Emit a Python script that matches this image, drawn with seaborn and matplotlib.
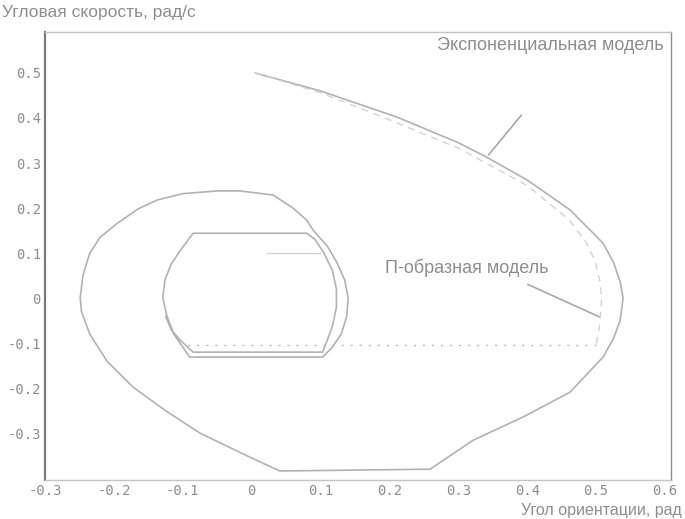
import numpy as np
import pandas as pd
import matplotlib
matplotlib.use("Agg")
import matplotlib.pyplot as plt
import seaborn as sns

# ---- data ----
# exponential model trajectory: spirals from (0, 0.5) into the limit cycle
exp_phi = [0.005, 0.1, 0.211, 0.3, 0.341, 0.4, 0.462, 0.51, 0.525, 0.535, 0.539, 0.535, 0.525, 0.51,
           0.462, 0.394, 0.321, 0.259, 0.041, -0.003, -0.075, -0.125, -0.172, -0.21, -0.235,
           -0.247, -0.249, -0.245, -0.235, -0.22, -0.196, -0.165, -0.137, -0.1, -0.05,
           -0.017, 0.031, 0.06, 0.08,
           0.089, 0.11, 0.124, 0.135, 0.14, 0.138, 0.13, 0.117, 0.103, -0.09, -0.1, -0.113,
           -0.123, -0.129, -0.126, -0.117, -0.104, -0.085, 0.08, 0.092, 0.105, 0.117, 0.123,
           0.123, 0.117, 0.108, 0.103, -0.085, -0.104, -0.117, -0.125]
exp_omega = [0.5, 0.46, 0.402, 0.345, 0.313, 0.262, 0.196, 0.122, 0.08, 0.035, 0.0, -0.049, -0.09, -0.131,
             -0.209, -0.264, -0.316, -0.38, -0.384, -0.353, -0.3, -0.25, -0.198, -0.14, -0.08,
             -0.03, 0.0, 0.05, 0.1, 0.135, 0.165, 0.198, 0.218, 0.232, 0.238,
             0.238, 0.229, 0.2, 0.173,
             0.151, 0.115, 0.078, 0.04, 0.0, -0.04, -0.08, -0.109, -0.131, -0.131, -0.109, -0.08,
             -0.04, 0.0, 0.04, 0.075, 0.105, 0.144, 0.144, 0.13, 0.1, 0.062, 0.02,
             -0.02, -0.064, -0.1, -0.12, -0.12, -0.093, -0.07, -0.04]

# П-shaped model trajectory (slightly inside on the right, then sliding along omega = -0.104)
p_phi = [0.005, 0.1, 0.2, 0.3, 0.4, 0.46, 0.485, 0.498, 0.505, 0.508, 0.505, 0.5]
p_omega = [0.5, 0.456, 0.396, 0.333, 0.25, 0.175, 0.125, 0.084, 0.04, 0.0, -0.06, -0.104]
slide_phi = [0.5, -0.1]
slide_omega = [-0.104, -0.104]
p_cycle_phi = [0.022, 0.099]
p_cycle_omega = [0.1, 0.1]

x_ticks = [-0.3, -0.2, -0.1, 0, 0.1, 0.2, 0.3, 0.4, 0.5, 0.6]
x_tick_labels = ["-0.3", "-0.2", "-0.1", "0", "0.1", "0.2", "0.3", "0.4", "0.5", "0.6"]
y_ticks = [-0.3, -0.2, -0.1, 0, 0.1, 0.2, 0.3, 0.4, 0.5]
y_tick_labels = ["-0.3", "-0.2", "-0.1", "0", "0.1", "0.2", "0.3", "0.4", "0.5"]

x_label = "Угол ориентации, рад"
y_label = "Угловая скорость, рад/с"
exp_label = "Экспоненциальная модель"
p_label = "П-образная модель"

# ---- plot ----
sns.set_theme(style="white")
plt.rcParams["font.family"] = ["Liberation Sans", "DejaVu Sans"]

fig = plt.figure(figsize=(6.85, 5.19), dpi=100)
ax = fig.add_axes([45/685, 1-480/519, (671-45)/685, (480-32)/519])

curve_col = "#b2b2b2"
text_col = "#8e8e8e"

df_exp = pd.DataFrame({"phi": exp_phi, "omega": exp_omega})
df_p = pd.DataFrame({"phi": p_phi, "omega": p_omega})
df_slide = pd.DataFrame({"phi": slide_phi, "omega": slide_omega})
df_pc = pd.DataFrame({"phi": p_cycle_phi, "omega": p_cycle_omega})

sns.lineplot(data=df_exp, x="phi", y="omega", sort=False, estimator=None,
             color=curve_col, lw=1.2, ax=ax)
sns.lineplot(data=df_p, x="phi", y="omega", sort=False, estimator=None,
             color="#d2d2d2", lw=1.0, ax=ax, linestyle=(0, (5, 4)))
sns.lineplot(data=df_slide, x="phi", y="omega", sort=False, estimator=None,
             color="#b8b8b8", lw=1.0, ax=ax, linestyle=(0, (1.5, 5)))
sns.lineplot(data=df_pc, x="phi", y="omega", sort=False, estimator=None,
             color="#d0d0d0", lw=1.0, ax=ax)

ax.set_xlim(-0.3, 0.6086)
ax.set_ylim(-0.404, 0.591)

ax.set_xticks(x_ticks)
ax.set_xticklabels(x_tick_labels, family=["DejaVu Sans Mono"], fontsize=10, color=text_col)
ax.set_yticks(y_ticks)
ax.set_yticklabels(y_tick_labels, family=["DejaVu Sans Mono"], fontsize=10, color=text_col)
ax.tick_params(axis="both", length=0, pad=3)
ax.set_xlabel("")
ax.set_ylabel("")

for s in ["top", "right", "bottom"]:
    ax.spines[s].set_color("#c4c4c4")
    ax.spines[s].set_linewidth(1.0)
ax.spines["right"].set_color("#8c8c8c")
ax.spines["left"].set_color("#7a7a7a")
ax.spines["left"].set_linewidth(1.6)

fig.text(2/685, 1-13/519, y_label, fontsize=12.5, color=text_col, ha="left", va="center")
fig.text(682/685, 1-510/519, x_label, fontsize=11.5, color=text_col, ha="right", va="center")

ax.text(0.269, 0.562, exp_label, fontsize=13, color=text_col, ha="left", va="center")
ax.annotate("", xy=(0.341, 0.313), xytext=(0.394, 0.411),
            arrowprops=dict(arrowstyle="-", color="#a8a8a8", lw=1.2))
ax.text(0.193, 0.067, p_label, fontsize=13, color=text_col, ha="left", va="center")
ax.annotate("", xy=(0.508, -0.044), xytext=(0.397, 0.033),
            arrowprops=dict(arrowstyle="-", color="#a8a8a8", lw=1.2))

fig.savefig("out.png", dpi=100)
